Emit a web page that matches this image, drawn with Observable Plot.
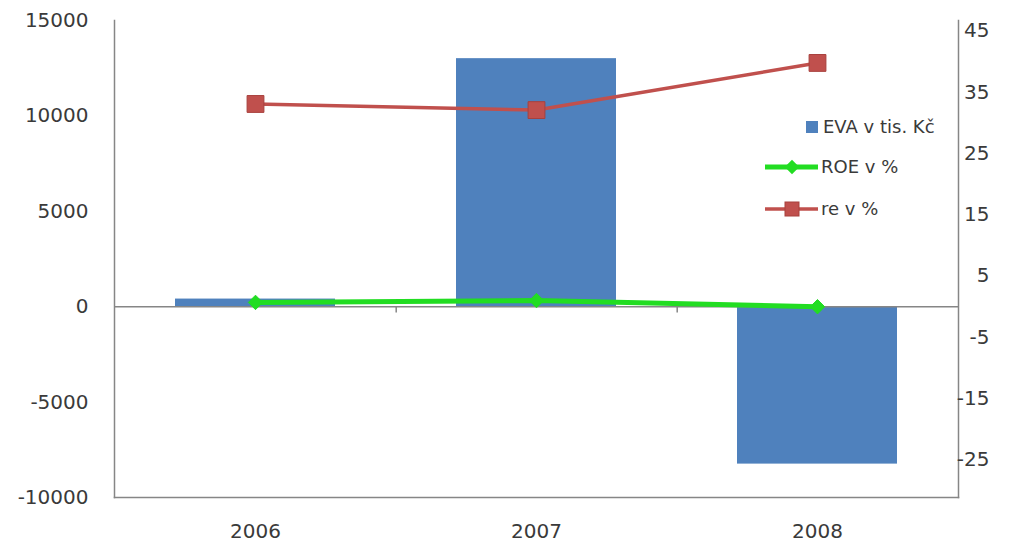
<!DOCTYPE html>
<html>
<head>
<meta charset="utf-8">
<script src="https://cdn.jsdelivr.net/npm/d3@7"></script>
<script src="https://cdn.jsdelivr.net/npm/@observablehq/plot@0.6"></script>
<style>
  html, body { margin: 0; padding: 0; background: #fff; }
  #wrap { position: relative; width: 1017px; height: 546px; }
  #legend { position: absolute; left: 0; top: 0; width: 1017px; height: 546px; pointer-events: none; }
  #legend text { font-family: "DejaVu Sans", sans-serif; font-size: 18px; fill: #3a3a3a; }
</style>
</head>
<body>
<div id="wrap"></div>
<script>
const years = ["2006", "2007", "2008"];
const eva = [400, 13000, -8250];     // EVA v tis. Kč (left axis)
const roe = [0.7, 1.0, 0.0];         // ROE v % (right axis)
const re = [33.1, 32.1, 39.8];       // re v % (right axis)
const leftTicks = [-10000, -5000, 0, 5000, 10000, 15000];
const rightTicks = [-25, -15, -5, 5, 15, 25, 35, 45];
const seriesNames = ["EVA v tis. Kč", "ROE v %", "re v %"];
const k = 321; // right-axis unit expressed in left-axis units (shared zero)

const barData = years.map((y, i) => ({year: y, v: eva[i]}));
const roeData = years.map((y, i) => ({year: y, v: roe[i]}));
const reData = years.map((y, i) => ({year: y, v: re[i]}));

const axisColor = "#868686";
const textColor = "#3a3a3a";
const font = "DejaVu Sans, sans-serif";

const chart = Plot.plot({
  width: 1017,
  height: 546,
  marginLeft: 114,
  marginRight: 59,
  marginTop: 20,
  marginBottom: 49,
  style: {fontFamily: font, fontSize: "20px", color: textColor, background: "white"},
  x: {domain: years, paddingInner: 0.43, paddingOuter: 0.215, label: null},
  y: {domain: [-10000, 15000], label: null},
  marks: [
    Plot.frame({anchor: "left", stroke: axisColor, strokeWidth: 1.5}),
    Plot.frame({anchor: "bottom", stroke: axisColor, strokeWidth: 1.5}),
    Plot.frame({anchor: "right", stroke: axisColor, strokeWidth: 1.5}),
    Plot.barY(barData, {x: "year", y: "v", fill: "#4f81bd"}),
    Plot.ruleY([0], {stroke: axisColor, strokeWidth: 1.5}),
    Plot.ruleX(years.slice(0, -1), {x: d => d, dx: 140.7, y1: 0, y2: -330, stroke: axisColor, strokeWidth: 1.5}),
    Plot.line(roeData, {x: "year", y: d => d.v * k, stroke: "#22dd22", strokeWidth: 5}),
    Plot.dot(roeData, {x: "year", y: d => d.v * k, symbol: "diamond2", r: 6.5, fill: "#22dd22", stroke: "#22dd22", strokeWidth: 1}),
    Plot.line(reData, {x: "year", y: d => d.v * k, stroke: "#c0504d", strokeWidth: 3.5}),
    Plot.dot(reData, {x: "year", y: d => d.v * k, symbol: "square", r: 9.5, fill: "#c0504d", stroke: "#a8403d", strokeWidth: 1}),
    Plot.axisY(leftTicks, {anchor: "left", label: null, tickSize: 0, tickPadding: 26, tickFormat: d => String(d), fill: textColor, fontSize: 20}),
    Plot.text(rightTicks, {y: d => d * k, text: d => String(d), frameAnchor: "right", dx: 31, textAnchor: "end", fill: textColor, fontSize: 20}),
    Plot.axisX({anchor: "bottom", label: null, tickSize: 0, tickPadding: 26, fill: textColor, fontSize: 20})
  ]
});

const wrap = document.getElementById("wrap");
wrap.appendChild(chart);

// Legend overlay (inside plot area, right side)
const lg = d3.select(wrap).append("svg").attr("id", "legend").attr("width", 1017).attr("height", 546);
const items = [
  {name: seriesNames[0], type: "bar", color: "#4f81bd", y: 127},
  {name: seriesNames[1], type: "diamond", color: "#22dd22", y: 167},
  {name: seriesNames[2], type: "square", color: "#c0504d", y: 209}
];
for (const it of items) {
  const g = lg.append("g");
  if (it.type === "bar") {
    g.append("rect").attr("x", 806).attr("y", it.y - 6).attr("width", 12).attr("height", 12).attr("fill", it.color);
    g.append("text").attr("x", 823).attr("y", it.y).attr("dy", "0.35em").text(it.name);
  } else {
    g.append("line").attr("x1", 765).attr("x2", 818).attr("y1", it.y).attr("y2", it.y)
      .attr("stroke", it.color).attr("stroke-width", it.type === "diamond" ? 5 : 3.5);
    if (it.type === "diamond") {
      g.append("path").attr("d", d3.symbol(d3.symbolDiamond2, Math.PI * 6.5 * 6.5)())
        .attr("transform", `translate(792,${it.y})`).attr("fill", it.color);
    } else {
      g.append("rect").attr("x", 785).attr("y", it.y - 7).attr("width", 14).attr("height", 14)
        .attr("fill", it.color).attr("stroke", "#a8403d");
    }
    g.append("text").attr("x", 821).attr("y", it.y).attr("dy", "0.35em").text(it.name);
  }
}
</script>
</body>
</html>
